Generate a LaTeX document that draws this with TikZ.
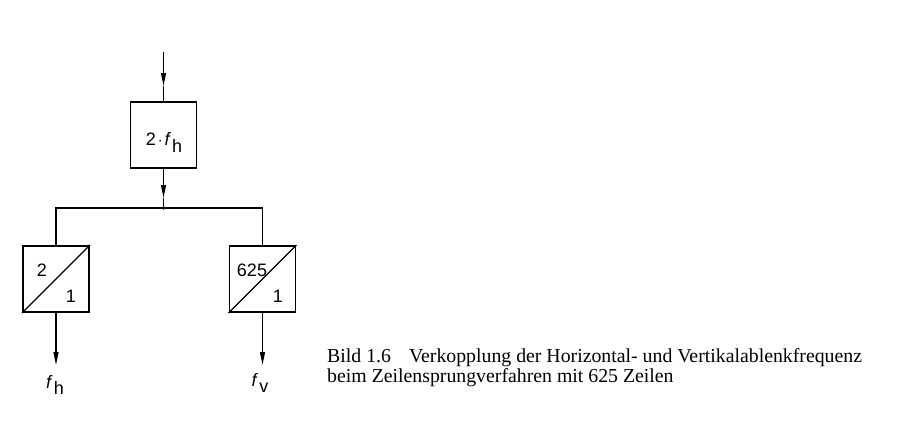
\documentclass[tikz,border=0pt]{standalone}
\usepackage{fontspec}
\setmainfont{Liberation Serif}
\newfontfamily\dinfont{Liberation Sans}
\usetikzlibrary{arrows.meta}
\tikzset{
  blk/.style={draw,line width=1.8pt,minimum width=66pt,minimum height=66pt,inner sep=0pt},
  wire/.style={line width=1.3pt},
  arr/.style={wire,-{Triangle[length=13pt,width=5pt]}},
  lbl/.style={font=\dinfont\fontsize{18}{20}\selectfont,inner sep=0pt},
  captxt/.style={anchor=base west,inner sep=0pt,font=\fontsize{19.8}{20}\selectfont},
}
\begin{document}
\begin{tikzpicture}[x=1pt,y=-1pt]
\useasboundingbox (0,0) rectangle (905,439);
% boxes
\node[blk] (top) at (163.5,135) {};
\node[lbl,anchor=base] (toptxt) at (164,145) {2\hspace{2pt}$\cdot$\hspace{2pt}\textit{f}\hspace{1pt}\raisebox{-7pt}{h}};
\node[blk] (b1) at (56,279) {};
\node[blk] (b2) at (262.5,279) {};
\draw[line width=1.3pt] (b1.south west) -- (b1.north east);
\draw[line width=1.3pt] (b2.south west) -- (b2.north east);
\node[lbl] (b1a) at (42,270) {2};
\node[lbl] (b1b) at (71,296) {1};
\node[lbl] (b2a) at (252,270) {625};
\node[lbl] (b2b) at (278,296) {1};
% input
\coordinate (in) at (163.5,52);
\coordinate (tipa) at (163.5,86);
\draw[arr] (in) -- (tipa);
\draw[wire] (tipa) -- (top.north);
% to junction
\coordinate (tipb) at (163.5,198);
\coordinate (j) at (163.5,208);
\draw[arr] (top.south) -- (tipb);
\draw[wire] (tipb) -- (j);
\fill (j) circle (1.8pt);
\draw[wire] (b1.north) |- (j) -| (b2.north);
% outputs
\coordinate (o1) at (56,365);
\coordinate (o2) at (262.5,365);
\draw[arr] (b1.south) -- (o1);
\draw[arr] (b2.south) -- (o2);
\node[lbl,anchor=north] (fh) at (55,375) {\textit{f}\hspace{1pt}\raisebox{-6pt}{h}};
\node[lbl,anchor=north] (fv) at (260,373) {\textit{f}\hspace{1pt}\raisebox{-6pt}{v}};
% caption
\node[captxt] (cap1) at (327,362)
  {Bild 1.6\hspace{18pt}Verkopplung der Horizontal- und Vertikalablenkfrequenz};
\node[captxt] (cap2) at (327,382)
  {beim Zeilensprungverfahren mit 625 Zeilen};
\end{tikzpicture}
\end{document}
